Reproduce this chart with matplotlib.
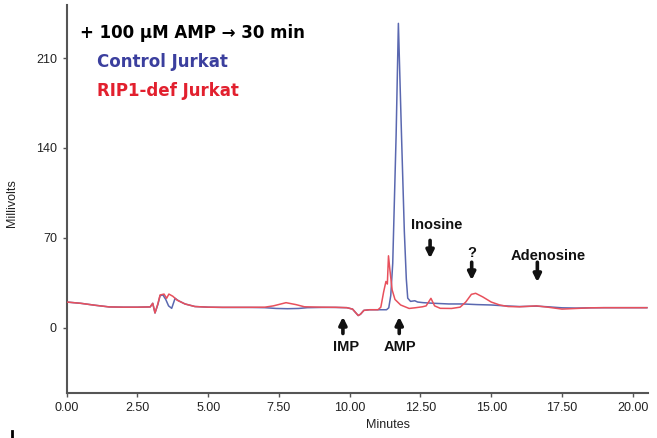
import matplotlib
matplotlib.use("Agg")
import matplotlib.pyplot as plt
from matplotlib.lines import Line2D

plt.rcParams['font.family'] = ['Liberation Sans', 'DejaVu Sans']

# ---- data (minutes, millivolts) ----
control_t = [0.00, 0.50, 1.00, 1.50, 2.00, 2.50, 2.95, 3.04, 3.12, 3.22, 3.30, 3.40,
             3.50, 3.60, 3.71, 3.83, 3.95, 4.18, 4.53, 5.00, 5.50, 6.00, 6.50, 7.00,
             7.40, 7.80, 8.20, 8.50, 9.00, 9.50, 9.90, 10.10, 10.20, 10.30, 10.38, 10.50,
             10.70, 11.00, 11.30, 11.38, 11.45, 11.52, 11.64, 11.72, 11.83, 11.93, 12.00,
             12.05, 12.15, 12.30, 12.40, 12.60, 13.00, 13.50, 14.00, 14.50, 15.00, 15.50,
             16.00, 16.60, 17.00, 17.50, 18.00, 18.50, 19.00, 19.50, 20.00, 20.50]
control_mv = [20.0, 19.0, 17.5, 16.2, 16.0, 16.0, 16.2, 19.0, 11.5, 18.0, 25.0, 25.5,
              22.0, 17.0, 15.1, 22.9, 21.0, 18.5, 16.5, 16.0, 15.8, 15.8, 15.8, 15.6,
              15.0, 14.8, 15.0, 15.6, 15.8, 15.8, 15.6, 14.5, 12.0, 9.5, 10.5, 13.5,
              14.0, 14.0, 14.0, 15.5, 25.0, 50.0, 150.0, 237.0, 150.0, 75.0, 38.0,
              23.0, 20.5, 21.0, 20.0, 19.5, 19.0, 18.5, 18.5, 18.0, 17.7, 17.0,
              16.5, 16.8, 16.3, 15.5, 15.3, 15.5, 15.6, 15.6, 15.6, 15.6]

rip1_t = [0.00, 0.50, 1.00, 1.50, 2.00, 2.50, 2.95, 3.04, 3.12, 3.22, 3.30, 3.44,
          3.53, 3.61, 3.75, 3.90, 4.18, 4.53, 5.00, 5.50, 6.00, 6.50, 7.00, 7.30,
          7.75, 8.10, 8.40, 9.00, 9.50, 9.90, 10.10, 10.20, 10.30, 10.38, 10.50, 10.70,
          11.00, 11.10, 11.20, 11.28, 11.33, 11.37, 11.42, 11.50, 11.60, 11.80, 12.10,
          12.30, 12.57, 12.70, 12.87, 13.00, 13.20, 13.60, 13.90, 14.10, 14.30, 14.45,
          14.70, 15.00, 15.30, 15.60, 16.00, 16.60, 17.00, 17.50, 18.00, 18.50, 19.00,
          19.50, 20.00, 20.50]
rip1_mv = [20.0, 19.0, 17.5, 16.2, 16.0, 16.0, 16.2, 19.0, 11.5, 18.5, 25.5, 26.2,
           22.9, 26.2, 24.5, 21.5, 18.5, 16.5, 16.0, 15.9, 15.9, 15.9, 16.0, 17.0,
           19.5, 18.0, 16.3, 16.0, 15.9, 15.6, 14.5, 12.0, 9.5, 10.5, 13.5, 14.0,
           14.0, 16.0, 28.0, 36.0, 34.0, 56.0, 45.0, 29.4, 22.0, 17.7, 15.0,
           15.5, 16.3, 17.0, 22.9, 17.0, 15.1, 15.0, 16.0, 20.0, 26.0, 26.8,
           24.0, 20.0, 17.7, 16.5, 16.3, 17.0, 16.0, 14.5, 15.0, 15.5, 15.6,
           15.6, 15.6, 15.6]

x_ticks = [0.0, 2.5, 5.0, 7.5, 10.0, 12.5, 15.0, 17.5, 20.0]
x_tick_labels = ['0.00', '2.50', '5.00', '7.50', '10.00', '12.50', '15.00', '17.50', '20.00']
y_ticks = [0, 70, 140, 210]
y_tick_labels = ['0', '70', '140', '210']

# labels: (text, text_x, text_y, arrow_x, tail_y, head_y)
markers = [
    ('IMP', 9.87, -15.0, 9.76, -4.5, 8.5),
    ('AMP', 11.78, -15.0, 11.75, -4.5, 8.5),
    ('Inosine', 13.08, 80.0, 12.84, 68.0, 54.0),
    ('?', 14.31, 58.0, 14.31, 51.0, 37.0),
    ('Adenosine', 17.03, 55.8, 16.63, 51.0, 35.5),
]

W, H = 657, 438
fig = plt.figure(figsize=(W / 100, H / 100), dpi=100)
fig.patch.set_facecolor('white')
ax = fig.add_axes([66.7 / W, 1 - 392.7 / H, (648 - 66.7) / W, (392.7 - 5) / H])

ax.plot(control_t, control_mv, color='#5a68b0', lw=1.1, zorder=2)
ax.plot(rip1_t, rip1_mv, color='#e8505c', lw=1.1, zorder=3)

ax.set_xlim(0, 20.54)
ax.set_ylim(-50.6, 251.3)
ax.set_xticks(x_ticks)
ax.set_xticklabels(x_tick_labels, fontsize=9, color='#222222')
ax.set_yticks(y_ticks)
ax.set_yticklabels(y_tick_labels, fontsize=9, color='#222222')
ax.tick_params(length=3, width=1, color='#555555', pad=4)
for s in ['top', 'right']:
    ax.spines[s].set_visible(False)
for s in ['left', 'bottom']:
    ax.spines[s].set_color('#555555')
    ax.spines[s].set_linewidth(1.5)

ax.set_xlabel('Minutes', fontsize=9, color='#222222')
ax.xaxis.set_label_coords(0.553, -0.068)
ax.set_ylabel('Millivolts', fontsize=9, color='#222222')
ax.yaxis.set_label_coords(-0.083, 0.49)

for text, tx, ty, axx, tail, head in markers:
    ax.text(tx, ty, text, fontsize=10.5, fontweight='bold', ha='center', va='center',
            color='#111111')
    ax.annotate('', xy=(axx, head), xytext=(axx, tail),
                arrowprops=dict(arrowstyle='-|>', lw=2.6, color='#111111',
                                mutation_scale=11, shrinkA=0, shrinkB=0))

title_font = ['DejaVu Sans']
fig.text(80 / W, 1 - 37.7 / H, '+ 100 \u03bcM AMP \u2192 30 min', fontsize=12,
         fontweight='bold', color='black', va='baseline', ha='left', family=title_font)
fig.text(96.7 / W, 1 - 66.7 / H, 'Control Jurkat', fontsize=12,
         fontweight='bold', color='#3b3f9e', va='baseline', ha='left', family=title_font)
fig.text(96.7 / W, 1 - 95.7 / H, 'RIP1-def Jurkat', fontsize=12,
         fontweight='bold', color='#e2202e', va='baseline', ha='left', family=title_font)

fig.add_artist(Line2D([12 / W, 12 / W], [0, 7 / H], color='black', lw=2))

fig.savefig('out.png', dpi=100)
